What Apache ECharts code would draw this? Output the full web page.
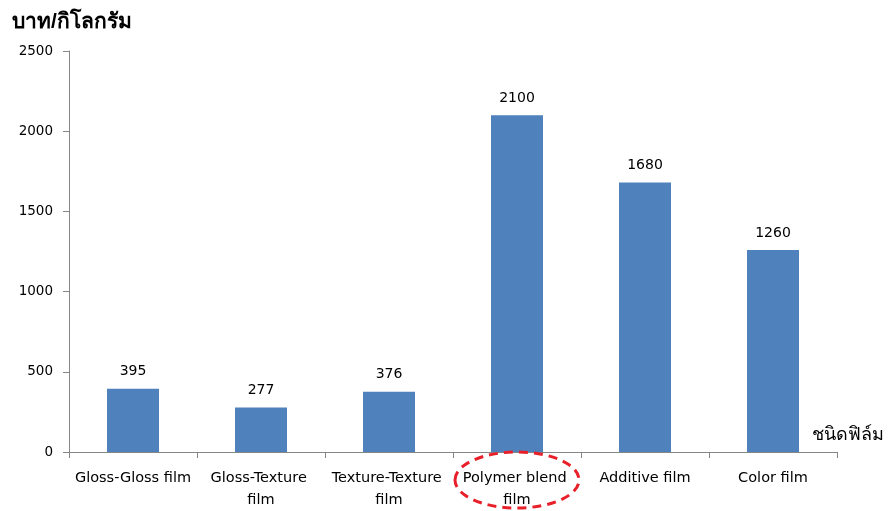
<!DOCTYPE html>
<html>
<head>
<meta charset="utf-8">
<script src="https://cdn.jsdelivr.net/npm/echarts@6/dist/echarts.min.js"></script>
<style>
  html, body { margin: 0; padding: 0; background: #fff; }
  #chart { width: 894px; height: 511px; }
</style>
</head>
<body>
<div id="chart"></div>
<script>
// Film types and price per kilogram (baht)
const categories = [
  'Gloss-Gloss film',
  'Gloss-Texture film',
  'Texture-Texture film',
  'Polymer blend film',
  'Additive film',
  'Color film'
];
const prices = [395, 277, 376, 2100, 1680, 1260];
const yTicks = [0, 500, 1000, 1500, 2000, 2500];
const yAxisTitle = 'บาท/กิโลกรัม';
const xAxisTitle = 'ชนิดฟิล์ม';
const highlighted = 'Polymer blend film';

const textFont = '"DejaVu Sans", "Noto Sans", sans-serif';
const axisGray = '#868686';

const chart = echarts.init(document.getElementById('chart'));
chart.setOption({
  animation: false,
  backgroundColor: '#ffffff',
  grid: { left: 69, right: 57, top: 51, bottom: 58, containLabel: false },
  xAxis: {
    type: 'category',
    data: categories,
    name: xAxisTitle,
    nameLocation: 'end',
    nameGap: -25,
    nameTextStyle: {
      fontSize: 18, color: '#000',
      align: 'left', verticalAlign: 'bottom', padding: [0, 0, 8, 0]
    },
    axisLine: { lineStyle: { color: axisGray, width: 1 } },
    axisTick: { show: true, length: 6, lineStyle: { color: axisGray }, alignWithLabel: false },
    axisLabel: {
      interval: 0, margin: 15, color: '#000',
      fontFamily: textFont, fontSize: 14.5, lineHeight: 22,
      width: 126, overflow: 'break'
    },
    splitLine: { show: false }
  },
  yAxis: {
    type: 'value',
    min: yTicks[0],
    max: yTicks[yTicks.length - 1],
    interval: yTicks[1] - yTicks[0],
    name: yAxisTitle,
    nameLocation: 'end',
    nameGap: 18,
    nameTextStyle: {
      fontSize: 21, color: '#000', fontWeight: 'bold',
      align: 'left', padding: [0, 0, 0, -57]
    },
    axisLine: { show: true, lineStyle: { color: axisGray, width: 1 } },
    axisTick: { show: true, length: 6, lineStyle: { color: axisGray } },
    axisLabel: {
      margin: 16, color: '#000', fontFamily: textFont, fontSize: 13.5,
      formatter: v => String(v)
    },
    splitLine: { show: false }
  },
  series: [{
    type: 'bar',
    data: prices,
    barWidth: 52,
    itemStyle: { color: '#4f81bd' },
    label: {
      show: true, position: 'top', distance: 10,
      color: '#000', fontFamily: textFont, fontSize: 14
    }
  }]
});

// Red dashed ellipse around the highlighted film label
const p = chart.convertToPixel({ xAxisIndex: 0 }, highlighted);
const axisY = chart.convertToPixel({ yAxisIndex: 0 }, 0);
chart.setOption({
  graphic: [{
    type: 'ellipse',
    shape: { cx: p, cy: axisY + 28, rx: 62, ry: 28 },
    style: { fill: 'none', stroke: '#e8202a', lineWidth: 3, lineDash: [9, 6] },
    z: 100
  }]
});
</script>
</body>
</html>
